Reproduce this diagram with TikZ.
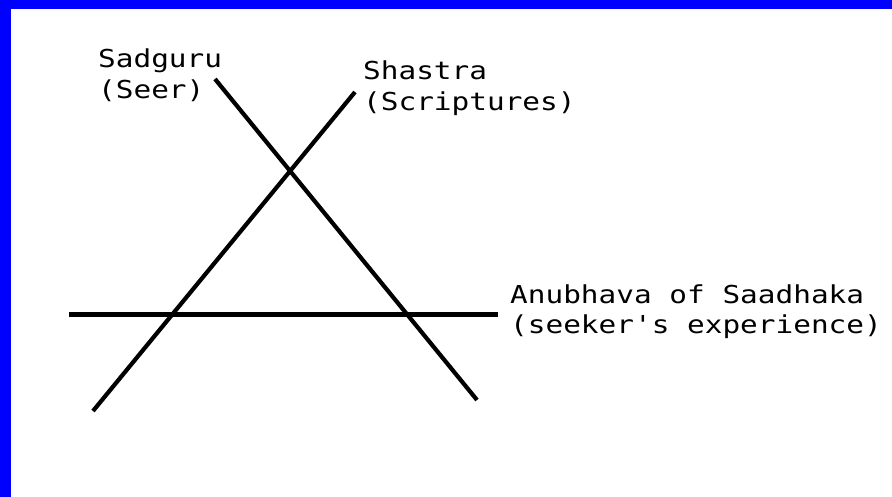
\documentclass[tikz,border=0pt]{standalone}
\usepackage{fontspec}
\newfontfamily\pixfont[FakeStretch=1.19]{DejaVu Sans Mono}
\tikzset{
  label text/.style={anchor=base west, inner sep=0pt, align=left,
    font=\pixfont\fontsize{24.7}{31}\selectfont},
  axis line/.style={line width=4.2pt, black},
  base line/.style={line width=5pt, black}
}
\begin{document}
\begin{tikzpicture}[x=1pt,y=-1pt]
  \useasboundingbox (0,0) rectangle (892,497);
  \fill[white] (0,0) rectangle (892,497);
  \fill[blue] (0,0) rectangle (11,497);
  \fill[blue] (0,0) rectangle (892,9);
  % line end points
  \coordinate (sgTop) at (215,79);
  \coordinate (sgBot) at (477,400);
  \coordinate (shTop) at (355,92);
  \coordinate (shBot) at (93,411);
  \coordinate (anL) at (69,314);
  \coordinate (anR) at (498,314);
  \draw[axis line] (sgTop) -- (sgBot);
  \draw[axis line] (shTop) -- (shBot);
  \draw[base line] (anL) -- (anR);
  % labels (anchored at the baseline of their last line)
  \node[label text] (sadguru) at (98,99) {Sadguru\\(Seer)};
  \node[label text] (shastra) at (363,111) {Shastra\\(Scriptures)};
  \node[label text] (anubhava) at (510,334) {Anubhava of Saadhaka\\(seeker's experience)};
\end{tikzpicture}
\end{document}
